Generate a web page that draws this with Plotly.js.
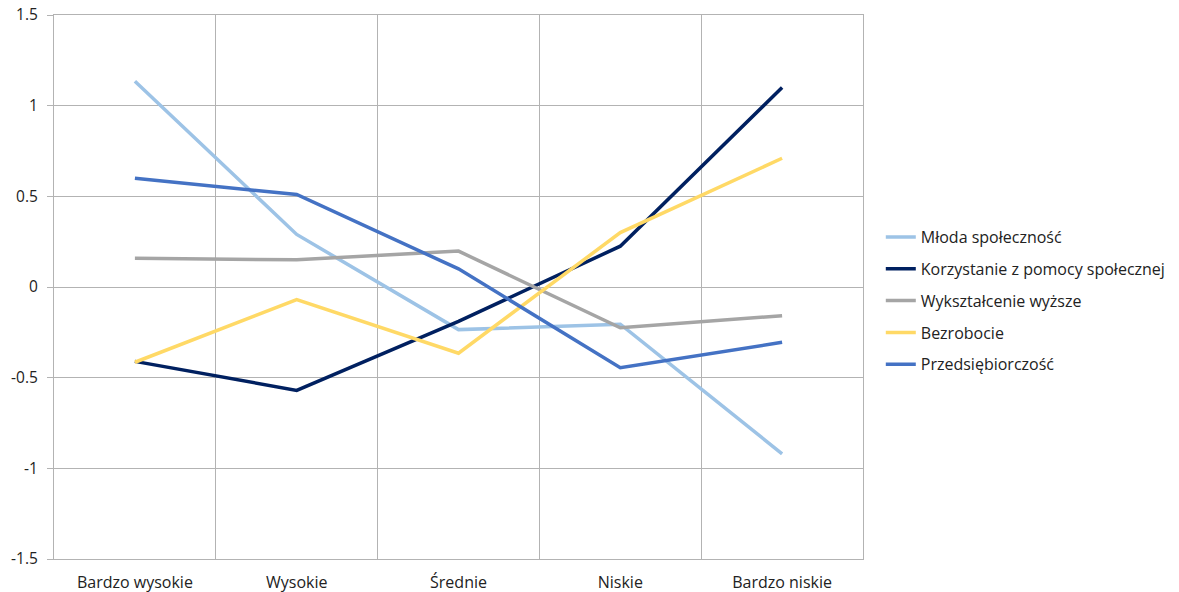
<!DOCTYPE html>
<html>
<head>
<meta charset="utf-8">
<script src="https://cdn.plot.ly/plotly-3.0.1.min.js"></script>
<style>html,body{margin:0;padding:0;background:#fff;}#chart{width:1179px;height:592px;}</style>
</head>
<body>
<div id="chart"></div>
<script>
const categories = ["Bardzo wysokie", "Wysokie", "Średnie", "Niskie", "Bardzo niskie"];
const seriesNames = ["Młoda społeczność", "Korzystanie z pomocy społecznej", "Wykształcenie wyższe", "Bezrobocie", "Przedsiębiorczość"];
const mlodaSpolecznosc = [1.135, 0.29, -0.235, -0.205, -0.92];
const korzystanie = [-0.41, -0.57, -0.19, 0.225, 1.10];
const wyksztalcenie = [0.158, 0.15, 0.198, -0.225, -0.158];
const bezrobocie = [-0.415, -0.07, -0.365, 0.30, 0.71];
const przedsiebiorczosc = [0.60, 0.51, 0.10, -0.445, -0.305];
const colors = ["#9DC3E6", "#002060", "#A5A5A5", "#FFD966", "#4472C4"];
const seriesValues = [mlodaSpolecznosc, korzystanie, wyksztalcenie, bezrobocie, przedsiebiorczosc];

const font = {family: "'Open Sans', 'Noto Sans', sans-serif", size: 16, color: "#222"};
const axisFont = {family: "'Open Sans', 'Noto Sans', sans-serif", size: 15.5, color: "#222"};
const gridColor = "#B3B3B3";

const traces = seriesValues.map((vals, i) => ({
  type: "scatter", mode: "lines",
  x: categories, y: vals, name: seriesNames[i],
  legendgroup: "g" + i,
  line: {color: colors[i], width: 3.5},
  hoverinfo: "skip"
}));

const layout = {
  width: 1179, height: 592,
  margin: {l: 54, r: 316, t: 15, b: 33, pad: 0, autoexpand: false},
  paper_bgcolor: "#fff", plot_bgcolor: "#fff",
  font: font,
  showlegend: true,
  legend: {x: 1.022, y: 0.475, xanchor: "left", yanchor: "middle",
           font: font, tracegroupgap: 8, itemwidth: 30,
           bgcolor: "rgba(0,0,0,0)"},
  xaxis: {type: "category", range: [-0.5, 4.5], tickson: "boundaries", showgrid: true, gridcolor: gridColor, gridwidth: 1,
          showline: true, linecolor: gridColor, linewidth: 1, mirror: true,
          ticks: "", ticklen: 0, ticklabelstandoff: 9, tickfont: font, zeroline: false, fixedrange: true},
  yaxis: {range: [-1.5, 1.5], tickvals: [-1.5, -1, -0.5, 0, 0.5, 1, 1.5],
          ticktext: ["-1.5", "-1", "-0.5", "0", "0.5", "1", "1.5"],
          showgrid: true, gridcolor: gridColor, gridwidth: 1,
          showline: true, linecolor: gridColor, linewidth: 1, mirror: true,
          ticks: "outside", ticklen: 6, tickcolor: gridColor, tickfont: axisFont,
          ticklabelstandoff: 6, zeroline: false, fixedrange: true}
};

Plotly.newPlot("chart", traces, layout, {displayModeBar: false, staticPlot: true});
</script>
</body>
</html>
